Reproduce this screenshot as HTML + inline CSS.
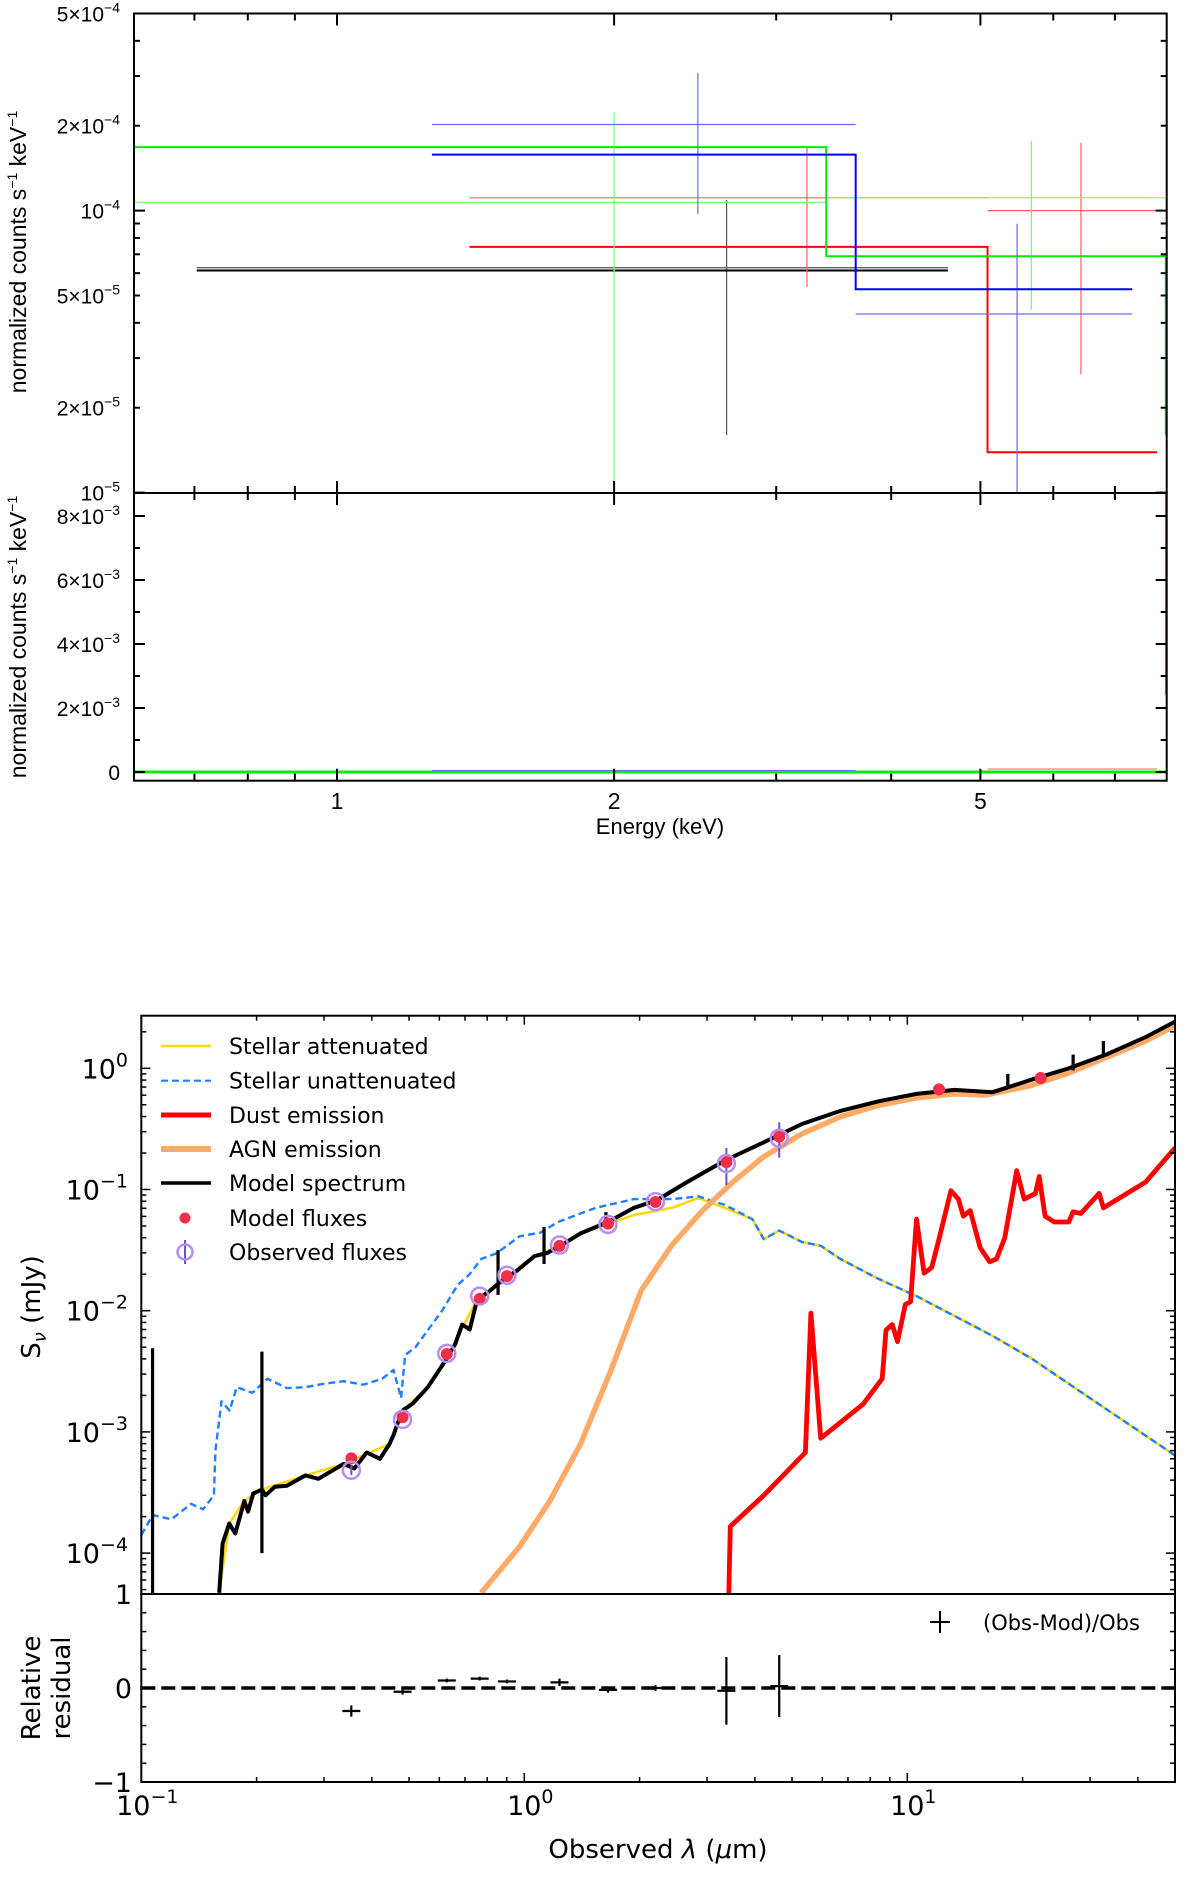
<!DOCTYPE html>
<html><head><meta charset="utf-8"><style>
html,body{margin:0;padding:0;background:#fff;}
svg{display:block;}
</style></head><body>
<svg id="root" width="1200" height="1900" viewBox="0 0 1200 1900" xmlns="http://www.w3.org/2000/svg">
<rect x="0" y="0" width="1200" height="1900" fill="#fff"/>
<defs>
<clipPath id="clipX"><rect x="134" y="13.5" width="1033" height="479.5"/></clipPath>
<clipPath id="clipXb"><rect x="134" y="493" width="1033" height="288"/></clipPath>
<clipPath id="clipS"><rect x="141.3" y="1015.7" width="1034" height="578.3"/></clipPath>
</defs>
<g id="xray"></g>
<g id="sed"></g>
</svg>
<script>
// ================= X-ray spectrum data =================
const xrInstruments = ['black','red','green','blue'];
const xrModelBlack = [[0.704,4.61,6.13e-5]];
const xrModelRed   = [[1.393,5.09,7.44e-5],[5.09,7.78,1.39e-5]];
const xrModelGreen = [[0.60,3.40,1.68e-4],[3.40,7.95,6.89e-5]];
const xrModelGreenEnd = 1.6e-5;
const xrModelBlue  = [[1.268,3.66,1.58e-4],[3.66,7.31,5.26e-5]];
const xrDataBlack = [[0.704,4.61,6.27e-5,2.65,1.6e-5,1.09e-4]];
const xrDataRed   = [[1.393,5.09,1.11e-4,3.24,5.36e-5,1.67e-4],[5.09,7.78,1.0e-4,6.43,2.63e-5,1.74e-4]];
const xrDataGreen = [[0.60,3.40,1.07e-4,2.0,5e-6,2.23e-4],[3.40,7.95,1.11e-4,5.68,4.44e-5,1.77e-4]];
const xrDataBlue  = [[1.268,3.66,2.02e-4,2.466,9.73e-5,3.08e-4],[3.66,7.31,4.30e-5,5.48,5e-6,8.98e-5]];
const xrTopTickVals = [5e-4,2e-4,1e-4,5e-5,2e-5,1e-5];
const xrTopTickLabels = [['5×10','−4'],['2×10','−4'],['10','−4'],['5×10','−5'],['2×10','−5'],['10','−5']];
const xrBotTickVals = [8e-3,6e-3,4e-3,2e-3,0];
const xrBotTickLabels = [['8×10','−3'],['6×10','−3'],['4×10','−3'],['2×10','−3'],['0','']];
const xrXTickVals = [1,2,5];
const xrXTickLabels = ['1','2','5'];

// ================= SED data =================
const sedBlackLam = [0.1597,0.1630,0.1696,0.1760,0.1858,0.1900,0.1960,0.2065,0.2110,0.2234,0.2400,0.2684,0.2900,0.3377,0.3600,0.3876,0.4200,0.4447,0.4560,0.466,0.4831,0.5100,0.5597,0.5900,0.6275,0.660,0.688,0.720,0.7544,0.8000,0.8858,0.950,1.064,1.150,1.253,1.402,1.654,1.934,2.215,2.66,3.34,4.22,5.31,6.69,8.41,10.57,13.3,16.7,21.1,26.4,33.3,41.9,50];
const sedBlackF   = [4.7e-5,1.2e-4,1.75e-4,1.45e-4,2.69e-4,2.2e-4,3.1e-4,3.34e-4,3.0e-4,3.53e-4,3.6e-4,4.38e-4,4.1e-4,5.44e-4,5.0e-4,6.76e-4,6.0e-4,7.94e-4,9.5e-4,1.16e-3,1.52e-3,1.7e-3,2.34e-3,3.0e-3,4.03e-3,5.3e-3,7.69e-3,7.0e-3,0.01253,0.0140,0.01828,0.0210,0.0282,0.0300,0.0349,0.0434,0.0539,0.0707,0.0813,0.115,0.1734,0.245,0.347,0.445,0.534,0.615,0.663,0.635,0.806,1.0,1.31,1.81,2.43];
const sedSpikeLam = [0.107,0.2065,0.854,1.126,1.634,18.3,27.1,32.5];
const sedSpikeTop = [4.9e-3,4.6e-3,0.0316,0.049,0.065,0.90,1.30,1.68];
const sedSpikeBot = [4.6e-5,1.0e-4,0.0135,0.0243,0.05,0.675,0.96,1.24];
const sedYellowLam = [0.1597,0.1696,0.1858,0.2065,0.2684,0.3377,0.4447,0.4831,0.5597,0.6275,0.7544,0.8858,1.064,1.253,1.402,1.654,1.934,2.43,2.85,3.34,3.94,4.22,4.63,5.31,5.94,6.69,8.41,10.57,16.7,21.1,33.3,50];
const sedYellowF   = [4.7e-5,1.75e-4,2.69e-4,3.34e-4,4.38e-4,5.44e-4,7.94e-4,1.52e-3,2.34e-3,4.03e-3,0.01253,0.01828,0.0282,0.0349,0.0434,0.052,0.0616,0.0707,0.085,0.0707,0.0569,0.039,0.0458,0.0369,0.0343,0.0267,0.0183,0.0132,6.2e-3,4.03e-3,1.52e-3,6.4e-4];
const sedBlueLam = [0.1,0.1071,0.1200,0.1348,0.1450,0.1547,0.1561,0.162,0.1700,0.1775,0.1950,0.2134,0.2400,0.2684,0.3000,0.3377,0.3800,0.4255,0.4554,0.4769,0.4883,0.5200,0.5597,0.6100,0.6704,0.7200,0.7717,0.8500,0.9717,1.100,1.224,1.538,1.934,2.43,2.85,3.34,3.94,4.22,4.63,5.31,5.94,6.69,8.41,10.57,16.7,21.1,33.3,50];
const sedBlueF   = [1.41e-4,2.06e-4,1.9e-4,2.55e-4,2.3e-4,3.0e-4,7.0e-4,1.79e-3,1.5e-3,2.34e-3,2.1e-3,2.75e-3,2.3e-3,2.34e-3,2.5e-3,2.62e-3,2.45e-3,2.75e-3,3.24e-3,1.9e-3,4.3e-3,5.0e-3,6.9e-3,0.0100,0.0164,0.0200,0.0267,0.0300,0.0411,0.0440,0.0539,0.0707,0.0834,0.0834,0.0877,0.0746,0.0569,0.039,0.0458,0.0369,0.0343,0.0267,0.0183,0.0132,6.2e-3,4.03e-3,1.52e-3,6.4e-4];
const sedAgnLam = [0.7717,0.9717,1.166,1.402,1.685,2.02,2.43,2.92,3.5,4.22,5.31,6.69,8.41,10.57,13.3,16.0,21.1,26.4,33.3,41.9,50];
const sedAgnF   = [4.7e-5,1.13e-4,2.69e-4,7.94e-4,3.24e-3,0.0147,0.0349,0.067,0.115,0.187,0.288,0.399,0.495,0.57,0.615,0.601,0.723,0.917,1.24,1.68,2.25];
const sedDustLam = [3.42,3.45,4.22,5.42,5.60,5.94,7.66,8.6,8.8,9.13,9.43,9.88,10.2,10.57,11.06,11.58,12.1,13.0,13.6,14.0,14.6,15.5,16.4,17.1,17.96,19.3,20.2,21.6,22.1,22.9,24.2,26.4,27.1,28.4,31.7,32.5,41.9,50];
const sedDustF   = [4.6e-5,1.66e-4,3.0e-4,6.76e-4,9.55e-3,8.85e-4,1.69e-3,2.75e-3,6.9e-3,7.7e-3,5.56e-3,0.01124,0.01186,0.0569,0.0204,0.0227,0.039,0.0977,0.0834,0.0603,0.067,0.0331,0.0253,0.0267,0.0398,0.143,0.0834,0.0926,0.128,0.0603,0.0539,0.0539,0.0655,0.0634,0.0929,0.0707,0.115,0.22];
const sedModelLam = [0.3535,0.481,0.6275,0.7647,0.9012,1.2355,1.654,2.2,3.37,4.63,12.1,22.3];
const sedModelF   = [6.06e-4,1.32e-3,4.39e-3,0.01253,0.0193,0.0343,0.0523,0.0788,0.168,0.273,0.67,0.832];
const sedObsLam = [0.3535,0.481,0.6275,0.7647,0.9012,1.2355,1.654,2.2,3.37,4.63];
const sedObsF   = [4.83e-4,1.27e-3,4.45e-3,0.0132,0.0196,0.0348,0.0515,0.0795,0.164,0.265];
const sedObsErrLo = [4.4e-4,1.24e-3,4.3e-3,0.0129,0.0192,0.034,0.0505,0.078,0.109,0.183];
const sedObsErrHi = [5.3e-4,1.31e-3,4.6e-3,0.0136,0.0201,0.0355,0.0525,0.081,0.22,0.358];
const resVal   = [-0.245,-0.04,0.08,0.1,0.07,0.06,-0.02,0.0,-0.03,0.02];
const resErr   = [0.06,0.03,0.02,0.02,0.02,0.04,0.03,0.03,0.36,0.33];
const sedYTickVals = [1,0.1,0.01,0.001,0.0001];
const sedYTickExp = ['0','−1','−2','−3','−4'];
const sedXTickVals = [0.1,1,10];
const sedXTickExp = ['−1','0','1'];
const legendLabels = ['Stellar attenuated','Stellar unattenuated','Dust emission','AGN emission','Model spectrum','Model fluxes','Observed fluxes'];

const NS='http://www.w3.org/2000/svg';
function mk(tag, attrs, parent){const e=document.createElementNS(NS,tag);for(const k in attrs)e.setAttribute(k,attrs[k]);if(parent)parent.appendChild(e);return e;}
const L10=Math.log10;

// ---------- X-ray chart ----------
const gx=document.getElementById('xray');
const xE=E=>337+920.5*L10(E);
const yT=v=>13.5+282*L10(5e-4/v);
const yB=v=>772-v*(256/8e-3);
const XL=134, XR=1166.7, YT0=13.5, YMID=493, YB0=780.7;
const XF='Liberation Sans, sans-serif';

const gxT=mk('g',{'clip-path':'url(#clipX)'},gx);


const cols={black:['#000','#555'],red:['#ff0000','#ff6060'],green:['#00ee00','#70ff70'],blue:['#0000ff','#6a6aff']};
const models={black:xrModelBlack,red:xrModelRed,green:xrModelGreen,blue:xrModelBlue};
const datas={black:xrDataBlack,red:xrDataRed,green:xrDataGreen,blue:xrDataBlue};
xrInstruments.forEach(ins=>{
  const d=datas[ins];
  d.forEach((b,i)=>{
    const h=mk('line',{x1:xE(b[0]),x2:xE(b[1]),y1:yT(b[2]),y2:yT(b[2]),stroke:cols[ins][1],'stroke-width':1.2},gxT);
    
    
    const v=mk('line',{x1:xE(b[3]),x2:xE(b[3]),y1:yT(b[4]),y2:yT(b[5]),stroke:cols[ins][1],'stroke-width':1.2},gxT);
    
    
  });
  const m=models[ins];
  let pts=[];
  m.forEach(b=>{pts.push([xE(b[0]),yT(b[2])]);pts.push([xE(b[1]),yT(b[2])]);});
  if(ins==='green'){pts.push([xE(m[m.length-1][1]),yT(xrModelGreenEnd)]);}
  const pl=mk('polyline',{points:pts.map(p=>p.join(',')).join(' '),fill:'none',stroke:cols[ins][0],'stroke-width':2},gxT);
  
  
});
const gxB=mk('g',{'clip-path':'url(#clipXb)'},gx);


const z1=mk('line',{x1:XL,x2:XR,y1:yB(0),y2:yB(0),stroke:'#00ee00','stroke-width':3},gxB);


mk('line',{x1:xE(1.268),x2:xE(3.66),y1:yB(0)-1.5,y2:yB(0)-1.5,stroke:'#6a6aff','stroke-width':1},gxB);
mk('line',{x1:xE(5.09),x2:xE(7.78),y1:yB(0)-3,y2:yB(0)-3,stroke:'#ff6060','stroke-width':1},gxB);
const ge=mk('line',{x1:XR-1,x2:XR-1,y1:YMID,y2:695,stroke:'#00ee00','stroke-width':1.5},gxB);



const f1=mk('rect',{x:XL,y:YT0,width:XR-XL,height:YMID-YT0,fill:'none',stroke:'#000','stroke-width':2},gx);


const f2=mk('rect',{x:XL,y:YMID,width:XR-XL,height:YB0-YMID,fill:'none',stroke:'#000','stroke-width':2},gx);


const xMinor=[0.7,0.8,0.9,3,4,6,7];
[[YT0,1],[YMID,1],[YMID,-1],[YB0,-1]].forEach(([y,dir])=>{
  xrXTickVals.forEach(E=>mk('line',{x1:xE(E),x2:xE(E),y1:y,y2:y+dir*12,stroke:'#000','stroke-width':2},gx));
  xMinor.forEach(E=>mk('line',{x1:xE(E),x2:xE(E),y1:y,y2:y+dir*7,stroke:'#000','stroke-width':2},gx));
});
xrXTickVals.forEach((E,i)=>{
  const t=mk('text',{x:xE(E),y:809,'text-anchor':'middle','font-family':XF,'font-size':23},gx);
  t.textContent=xrXTickLabels[i];
  
  
});
const xt=mk('text',{x:660,y:834,'text-anchor':'middle','font-family':XF,'font-size':22},gx);
xt.textContent='Energy (keV)';


for(let dec=-5;dec<=-4;dec++){for(let m=1;m<=9;m++){const v=m*Math.pow(10,dec);if(v<1e-5||v>5e-4)continue;
  const len=(m===1)?11:6;
  mk('line',{x1:XL,x2:XL+len,y1:yT(v),y2:yT(v),stroke:'#000','stroke-width':2},gx);
  mk('line',{x1:XR,x2:XR-len,y1:yT(v),y2:yT(v),stroke:'#000','stroke-width':2},gx);}}
xrTopTickVals.forEach((v,i)=>{
  const t=mk('text',{x:120,y:yT(v)+8,'text-anchor':'end','font-family':XF,'font-size':21},gx);
  
  
  const a=mk('tspan',{},t);a.textContent=xrTopTickLabels[i][0];
  const b=mk('tspan',{dy:-9,'font-size':14},t);b.textContent=xrTopTickLabels[i][1];
});
for(let k=0;k<=8;k++){const v=k*1e-3;const len=(k%2===0)?11:6;
  mk('line',{x1:XL,x2:XL+len,y1:yB(v),y2:yB(v),stroke:'#000','stroke-width':2},gx);
  mk('line',{x1:XR,x2:XR-len,y1:yB(v),y2:yB(v),stroke:'#000','stroke-width':2},gx);}
xrBotTickVals.forEach((v,i)=>{
  const t=mk('text',{x:120,y:yB(v)+8,'text-anchor':'end','font-family':XF,'font-size':21},gx);
  
  
  const a=mk('tspan',{},t);a.textContent=xrBotTickLabels[i][0];
  if(xrBotTickLabels[i][1]){const b=mk('tspan',{dy:-9,'font-size':14},t);b.textContent=xrBotTickLabels[i][1];}
});
[[252,'xray-top-y-axis-title'],[637,'xray-bottom-y-axis-title']].forEach(([cy,nm])=>{
  const t=mk('text',{x:0,y:0,transform:'translate(26,'+cy+') rotate(-90)','text-anchor':'middle','font-family':XF,'font-size':23},gx);
  
  
  const a=mk('tspan',{},t);a.textContent='normalized counts s';
  const b=mk('tspan',{dy:-9,'font-size':14},t);b.textContent='−1';
  const c=mk('tspan',{dy:9},t);c.textContent=' keV';
  const d=mk('tspan',{dy:-9,'font-size':14},t);d.textContent='−1';
});

// ---------- SED chart ----------
const gs=document.getElementById('sed');
const SL=141.3, SR=1175, ST=1015.7, SM=1594, SB=1782;
const xS=l=>141.3+383*(L10(l)+1);
const yS=F=>1068.3-121.2*L10(F);
const yR=r=>1688-94*r;
const FONT='DejaVu Sans, Liberation Sans, sans-serif';
const gc=mk('g',{'clip-path':'url(#clipS)'},gs);


function line(lams,fs,attrs,name){
  const p=mk('polyline',Object.assign({points:lams.map((l,i)=>xS(l).toFixed(1)+','+yS(fs[i]).toFixed(1)).join(' '),fill:'none','stroke-linejoin':'round'},attrs),gc);
  
  
  return p;
}
line(sedYellowLam,sedYellowF,{stroke:'#ffd700','stroke-width':2.5},'stellar-attenuated-line');
line(sedBlueLam,sedBlueF,{stroke:'#1e7fff','stroke-width':2.4,'stroke-dasharray':'7,4'},'stellar-unattenuated-line');
line(sedDustLam,sedDustF,{stroke:'#ff0000','stroke-width':4.8},'dust-emission-line');
line(sedAgnLam,sedAgnF,{stroke:'#ffaa66','stroke-width':5.5},'agn-emission-line');
line(sedBlackLam,sedBlackF,{stroke:'#000','stroke-width':4},'model-spectrum-line');
sedSpikeLam.forEach((l,i)=>{
  const s=mk('line',{x1:xS(l),x2:xS(l),y1:yS(sedSpikeBot[i]),y2:yS(sedSpikeTop[i]),stroke:'#000','stroke-width':3.2},gc);
  
  
});
sedObsLam.forEach((l,i)=>{
  const e=mk('line',{x1:xS(l),x2:xS(l),y1:yS(sedObsErrLo[i]),y2:yS(sedObsErrHi[i]),stroke:'#6a4fd8','stroke-width':2},gs);
  
  
});
sedModelLam.forEach((l,i)=>{
  const c=mk('circle',{cx:xS(l),cy:yS(sedModelF[i]),r:6,fill:'#f0304a'},gs);
  
  
});
sedObsLam.forEach((l,i)=>{
  const c=mk('circle',{cx:xS(l),cy:yS(sedObsF[i]),r:8.5,fill:'none',stroke:'#b88cf0','stroke-width':2.5},gs);
  
  
});
const zl=mk('line',{x1:SL,x2:SR,y1:yR(0),y2:yR(0),stroke:'#000','stroke-width':3.5,'stroke-dasharray':'14,6'},gs);


sedObsLam.forEach((l,i)=>{
  const g=mk('g',{},gs);
  
  
  mk('line',{x1:xS(l)-9,x2:xS(l)+9,y1:yR(resVal[i]),y2:yR(resVal[i]),stroke:'#000','stroke-width':2.2},g);
  mk('line',{x1:xS(l),x2:xS(l),y1:yR(resVal[i]-resErr[i]),y2:yR(resVal[i]+resErr[i]),stroke:'#000','stroke-width':2.2},g);
});
const sf1=mk('rect',{x:SL,y:ST,width:SR-SL,height:SM-ST,fill:'none',stroke:'#000','stroke-width':2},gs);


const sf2=mk('rect',{x:SL,y:SM,width:SR-SL,height:SB-SM,fill:'none',stroke:'#000','stroke-width':2},gs);


for(let dec=-5;dec<=0;dec++){for(let m=1;m<=9;m++){const v=m*Math.pow(10,dec);const y=yS(v);if(y<ST||y>SM)continue;
  const len=(m===1)?9:5;
  mk('line',{x1:SL,x2:SL+len,y1:y,y2:y,stroke:'#000','stroke-width':1.5},gs);
  mk('line',{x1:SR,x2:SR-len,y1:y,y2:y,stroke:'#000','stroke-width':1.5},gs);}}
sedYTickVals.forEach((v,i)=>{
  const t=mk('text',{x:128,y:yS(v)+10,'text-anchor':'end','font-family':FONT,'font-size':27},gs);
  
  
  const a=mk('tspan',{},t);a.textContent='10';
  const b=mk('tspan',{dy:-12,'font-size':19},t);b.textContent=sedYTickExp[i];
});
for(let k=-5;k<=5;k++){const r=k*0.2;const len=(k%5===0)?9:5;
  mk('line',{x1:SL,x2:SL+len,y1:yR(r),y2:yR(r),stroke:'#000','stroke-width':1.5},gs);
  mk('line',{x1:SR,x2:SR-len,y1:yR(r),y2:yR(r),stroke:'#000','stroke-width':1.5},gs);}
[[1,'1'],[0,'0'],[-1,'−1']].forEach(([r,s])=>{
  const t=mk('text',{x:132,y:yR(r)+10,'text-anchor':'end','font-family':FONT,'font-size':27},gs);
  t.textContent=s;
  
  
});
for(let dec=-1;dec<=1;dec++){for(let m=1;m<=9;m++){const l=m*Math.pow(10,dec);const x=xS(l);if(x>SR+0.5)continue;
  const len=(m===1)?9:5;
  mk('line',{x1:x,x2:x,y1:SB,y2:SB-len,stroke:'#000','stroke-width':1.5},gs);
  mk('line',{x1:x,x2:x,y1:ST,y2:ST+len,stroke:'#000','stroke-width':1.5},gs);}}
sedXTickVals.forEach((l,i)=>{
  const t=mk('text',{x:xS(l)+6,y:1815,'text-anchor':'middle','font-family':FONT,'font-size':27},gs);
  
  
  const a=mk('tspan',{},t);a.textContent='10';
  const b=mk('tspan',{dy:-12,'font-size':19},t);b.textContent=sedXTickExp[i];
});
const sxt=mk('text',{x:658,y:1858,'text-anchor':'middle','font-family':FONT,'font-size':26},gs);


sxt.innerHTML='Observed <tspan font-style="italic">λ</tspan> (<tspan font-style="italic">μ</tspan>m)';
const syt=mk('text',{x:0,y:0,transform:'translate(40,1307) rotate(-90)','text-anchor':'middle','font-family':FONT,'font-size':26},gs);


syt.innerHTML='S<tspan font-size="18" dy="6" font-style="italic">ν</tspan><tspan dy="-6"> (mJy)</tspan>';
['Relative','residual'].forEach((s,i)=>{
  const t=mk('text',{x:0,y:0,transform:'translate('+(40+i*30)+',1688) rotate(-90)','text-anchor':'middle','font-family':FONT,'font-size':26},gs);
  t.textContent=s;
  
  
});
const rl=mk('g',{},gs);


mk('line',{x1:930,x2:950,y1:1622,y2:1622,stroke:'#000','stroke-width':2},rl);
mk('line',{x1:940,x2:940,y1:1611,y2:1633,stroke:'#000','stroke-width':2},rl);
const rlt=mk('text',{x:983,y:1630,'font-family':FONT,'font-size':21},rl);rlt.textContent='(Obs-Mod)/Obs';
const lg=mk('g',{},gs);


const rows=[1046,1080.7,1115,1149,1183,1218,1252];
const hs=[{stroke:'#ffd700','stroke-width':2.5},{stroke:'#1e7fff','stroke-width':2.2,'stroke-dasharray':'7,4'},{stroke:'#ff0000','stroke-width':5},{stroke:'#ffaa66','stroke-width':6},{stroke:'#000','stroke-width':3.5}];
legendLabels.forEach((s,i)=>{
  const g=mk('g',{},lg);
  
  
  const y=rows[i];
  if(i<5){mk('line',Object.assign({x1:161,x2:211,y1:y,y2:y},hs[i]),g);}
  else if(i===5){mk('circle',{cx:185,cy:y,r:5.5,fill:'#f0304a'},g);}
  else{mk('line',{x1:185,x2:185,y1:y-12,y2:y+12,stroke:'#6a4fd8','stroke-width':2},g);mk('circle',{cx:185,cy:y,r:7.5,fill:'none',stroke:'#b88cf0','stroke-width':2.5},g);}
  const t=mk('text',{x:229,y:y+8,'font-family':FONT,'font-size':22},g);t.textContent=s;
});
</script>
</body></html>
